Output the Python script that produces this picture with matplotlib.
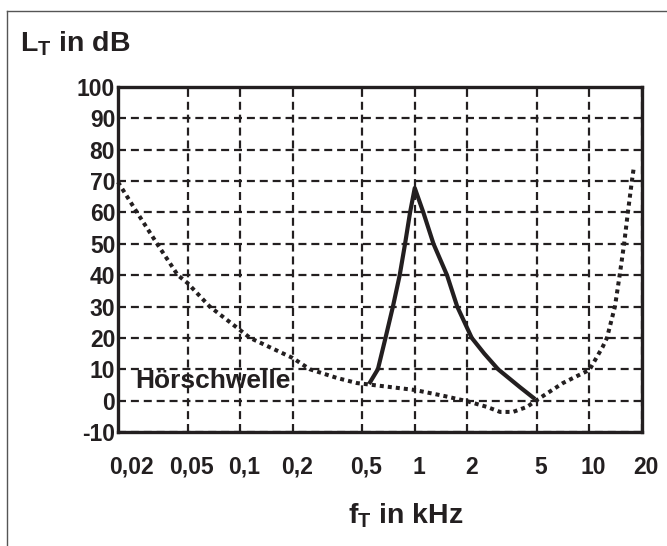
import matplotlib
matplotlib.use("Agg")
import matplotlib.pyplot as plt
from matplotlib.lines import Line2D
from matplotlib.ticker import NullLocator, FixedLocator
from matplotlib.transforms import ScaledTranslation

plt.rcParams['font.family'] = ['Liberation Sans', 'DejaVu Sans']
plt.rcParams['font.weight'] = 'bold'
plt.rcParams['mathtext.fontset'] = 'custom'
plt.rcParams['mathtext.rm'] = 'Liberation Sans:bold'
plt.rcParams['mathtext.bf'] = 'Liberation Sans:bold'
plt.rcParams['mathtext.it'] = 'Liberation Sans:bold'

# ---- data ----
x_ticks = [0.02, 0.05, 0.1, 0.2, 0.5, 1, 2, 5, 10, 20]
x_tick_labels = ["0,02", "0,05", "0,1", "0,2", "0,5", "1", "2", "5", "10", "20"]
y_ticks = [-10, 0, 10, 20, 30, 40, 50, 60, 70, 80, 90, 100]

# threshold of hearing (Hörschwelle)
thr_f = [0.02, 0.0257, 0.0335, 0.044, 0.05, 0.067, 0.1, 0.114, 0.2, 0.251, 0.36,
         0.467, 1.0, 1.47, 2.0, 2.59, 3.08, 3.65, 4.39, 5.0, 7.05, 10.0, 11.9,
         12.6, 14.0, 14.9, 15.8, 16.6, 17.5, 18.0]
thr_db = [69.7, 60, 50, 40, 37.5, 30, 22.5, 20, 13.6, 10, 7.2,
          5.6, 3.4, 1.5, -0.2, -2, -3.6, -3.6, -2, 0.2, 5.6, 9.8, 17.1,
          20, 30, 40, 50, 60, 70, 74.8]

# masking curve (1 kHz tone)
mask_f = [0.547, 0.615, 0.68, 0.75, 0.82, 0.88, 0.94, 1.0, 1.12, 1.28, 1.53,
          1.75, 2.12, 2.5, 3.0, 4.0, 4.88]
mask_db = [5.3, 10, 20, 30, 40, 50, 60, 67.8, 60, 50, 40,
           30, 20, 15, 10, 4.3, 0.5]

ink = '#231f20'

fig = plt.figure(figsize=(6.67, 5.46), dpi=100)
W, H = 667, 546
ax = fig.add_axes([118 / W, 1 - 432 / H, (642 - 118) / W, (432 - 87) / H])

ax.set_xscale('log')
ax.set_xlim(0.02, 20)
ax.set_ylim(-10, 100)
ax.xaxis.set_major_locator(FixedLocator(x_ticks))
ax.xaxis.set_minor_locator(NullLocator())
ax.set_xticks(x_ticks)
ax.set_xticklabels(x_tick_labels)
ax.set_yticks(y_ticks)
ax.set_yticklabels([str(v) for v in y_ticks])

ax.grid(True, which='major', linestyle=(0, (3.6, 2.2)), linewidth=1.6, color=ink, zorder=1)
ax.set_axisbelow(True)

ax.plot(thr_f, thr_db, color=ink, linewidth=2.9, linestyle=(0, (1, 1)),
        dash_capstyle='butt', solid_joinstyle='round', zorder=3, clip_on=False)
ax.plot(mask_f, mask_db, color=ink, linewidth=3.0, solid_capstyle='butt',
        solid_joinstyle='round', zorder=4)

for s in ax.spines.values():
    s.set_linewidth(2.4)
    s.set_color(ink)
    s.set_zorder(5)

ax.tick_params(axis='both', length=0, labelsize=16.5, colors=ink)
ax.tick_params(axis='y', pad=2.0)
ax.tick_params(axis='x', pad=17)

for i, lab in enumerate(ax.get_xticklabels()):
    dx = 13 if i == 0 else 4
    lab.set_transform(lab.get_transform() + ScaledTranslation(dx / 100, 0, fig.dpi_scale_trans))

ax.text(0.025, 4.0, "Hörschwelle", fontsize=19, fontweight='bold', color=ink,
        ha='left', va='baseline', zorder=6)

fig.text(20 / W, 1 - 52 / H, r"$\mathbf{L}_{\mathbf{T}}$ in dB", fontsize=20.5,
         fontweight='bold', color=ink, ha='left', va='baseline')
fig.text(406 / W, 1 - 523 / H, r"$\mathbf{f}_{\mathbf{T}}$ in kHz", fontsize=20.5,
         fontweight='bold', color=ink, ha='center', va='baseline')

# outer frame
fig.add_artist(Line2D([7 / W, 7 / W], [0, 1 - 11 / H], transform=fig.transFigure,
                      color='#555555', linewidth=1.0))
fig.add_artist(Line2D([7 / W, 1], [1 - 11 / H, 1 - 11 / H], transform=fig.transFigure,
                      color='#555555', linewidth=1.0))

fig.savefig("out.png", dpi=100, facecolor='white')
